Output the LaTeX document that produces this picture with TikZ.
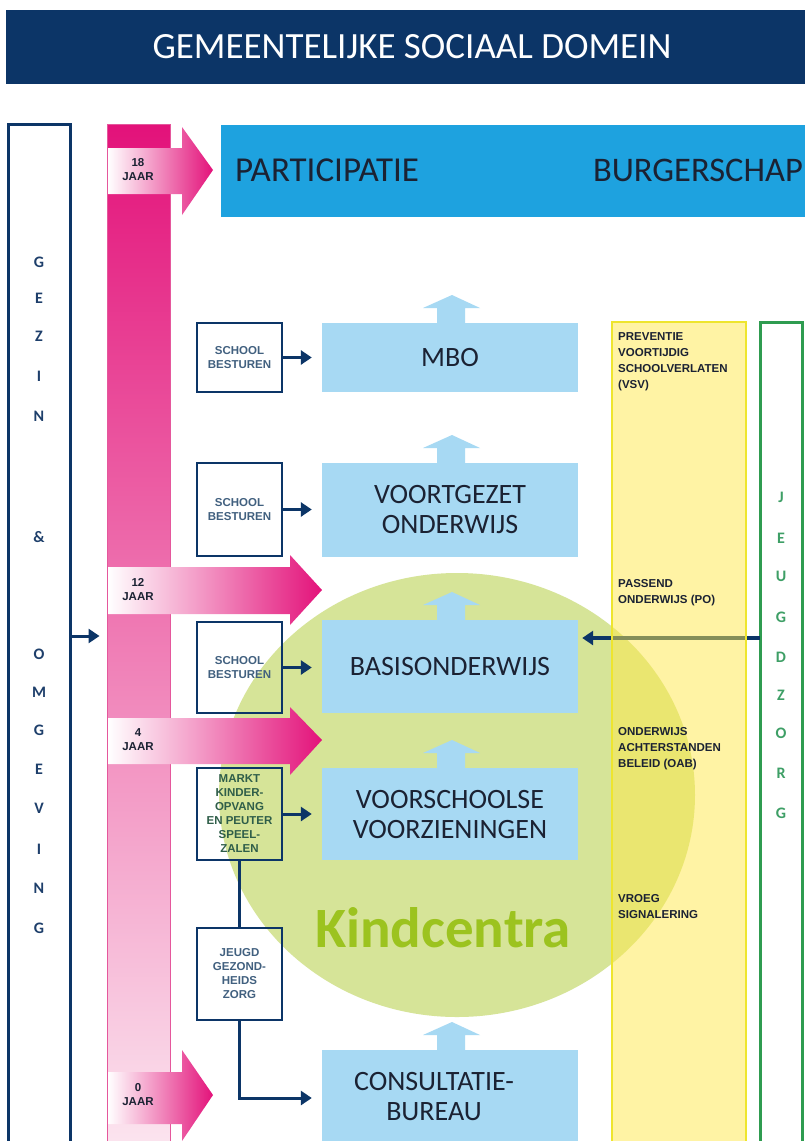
\documentclass[tikz,border=0pt]{standalone}
\usepackage{fontspec}
\setmainfont{Carlito}
\newfontfamily\tagfont{Liberation Sans}
\usetikzlibrary{arrows.meta}

\definecolor{domnavy}{HTML}{0C3567}
\definecolor{skyblue}{HTML}{1EA2DF}
\definecolor{paleblue}{HTML}{A7D9F3}
\definecolor{agepink}{HTML}{E3127A}
\definecolor{palepink}{HTML}{FCE8F1}
\definecolor{barline}{HTML}{E5579C}
\definecolor{kcgreen}{HTML}{D6E498}
\definecolor{kctext}{HTML}{9CC31F}
\definecolor{vsvyellow}{HTML}{FFE84A}
\definecolor{vsvline}{HTML}{EEE52E}
\definecolor{jzgreen}{HTML}{2F9C50}
\definecolor{jzletter}{HTML}{3E9F66}
\definecolor{gzletter}{HTML}{1E3F6B}
\definecolor{boardtext}{HTML}{41607F}
\definecolor{markttext}{HTML}{2F5E49}
\definecolor{inktext}{HTML}{1B2233}

\tikzset{
    phase/.style={fill=paleblue, minimum width=256pt, inner sep=0pt, align=center,
        text=inktext, font=\fontsize{28}{30}\selectfont},
    board/.style={draw=domnavy, line width=2.5pt, minimum width=85pt, inner sep=0pt,
        align=center, text=boardtext, font=\tagfont\bfseries\fontsize{11.5}{14}\selectfont},
    link/.style={draw=domnavy, line width=3pt, -{Triangle[length=11pt,width=14pt]}},
    vsvtext/.style={anchor=north west, align=left, inner sep=0pt, text=inktext,
        font=\tagfont\bfseries\fontsize{11.5}{16}\selectfont},
    agetext/.style={align=center, inner sep=0pt, text=inktext,
        font=\tagfont\bfseries\fontsize{11.5}{14}\selectfont},
    letter/.style={inner sep=0pt, font=\bfseries\fontsize{16}{16}\selectfont}
}

\begin{document}
\begin{tikzpicture}[x=1pt, y=-1pt]
    \useasboundingbox (0,0) rectangle (805,1141);
    \fill[white] (0,0) rectangle (805,1141);

    % header
    \node[fill=domnavy, minimum width=799pt, minimum height=74pt, inner sep=0pt] (header) at (405.5,47) {};
    \node[text=white, inner sep=0pt, font=\fontsize{37}{40}\selectfont] (title) at (412,47) {GEMEENTELIJKE SOCIAAL DOMEIN};

    \node[fill=skyblue, minimum width=590pt, minimum height=92pt, inner sep=0pt] (civic) at (516,171) {};
    \node[anchor=west, inner sep=0pt, text=inktext, font=\fontsize{35}{38}\selectfont] (particip) at (235,170) {PARTICIPATIE};
    \node[anchor=east, inner sep=0pt, text=inktext, font=\fontsize{34.5}{38}\selectfont] (burger) at (803,170) {BURGERSCHAP};

    % gezin & omgeving
    \node[draw=domnavy, line width=3pt, minimum width=62pt, minimum height=1040pt, inner sep=0pt] (gezin) at (39,644) {};
    \foreach \l/\y [count=\i] in {G/262, E/298, Z/336, I/376, N/416, \&/537, O/654, M/692, G/730, E/769, V/808, I/849, N/888, G/928}
        \node[letter, text=gzletter] (gz\i) at (39,\y) {\l};

    % leeftijdsbalk
    \node[top color=agepink, bottom color=palepink, draw=barline, line width=1pt, minimum width=63pt, minimum height=1040pt, inner sep=0pt] (agebar) at (138.5,644) {};
    \coordinate (gzout) at (70,636);
    \draw[link, shorten >=7pt] (gzout) -- (agebar.west |- gzout);

    % kindcentra
    \fill[kcgreen] (457,795) ellipse [x radius=238pt, y radius=222pt];
    \node[text=kctext, inner sep=0pt, font=\bfseries\fontsize{57}{60}\selectfont] (kindcentra) at (443,928) {Kindcentra};

    % onderwijsketen
    \foreach \t in {323, 463, 620, 768, 1050}
        \fill[paleblue] (423,\t-15) -- (452,\t-28) -- (480,\t-15) -- (465,\t-15) -- (465,\t+1) -- (437,\t+1) -- (437,\t-15) -- cycle;
    \node[phase, minimum height=69pt] (mbo) at (450,357.5) {MBO};
    \node[phase, minimum height=94pt] (vo) at (450,510) {VOORTGEZET\\ONDERWIJS};
    \node[phase, minimum height=93pt] (basis) at (450,666.5) {BASISONDERWIJS};
    \node[phase, minimum height=92pt] (vve) at (450,814) {VOORSCHOOLSE\\VOORZIENINGEN};
    \node[phase, minimum height=96pt] (consult) at (450,1098) {};
    \node[align=center, inner sep=0pt, text=inktext, font=\fontsize{28}{30}\selectfont] (consulttext) at (434,1097) {CONSULTATIE-\\BUREAU};

    % besturen
    \node[board, minimum height=69pt] (sb1) at (239.5,357.5) {SCHOOL\\BESTUREN};
    \node[board, minimum height=93pt] (sb2) at (239.5,509.5) {SCHOOL\\BESTUREN};
    \node[board, minimum height=91pt] (sb3) at (239.5,667.5) {SCHOOL\\BESTUREN};
    \node[board, minimum height=92pt, text=markttext] (markt) at (239.5,814) {MARKT\\KINDER-\\OPVANG\\EN PEUTER\\SPEEL-\\ZALEN};
    \node[board, minimum height=92pt] (jgz) at (239.5,974) {JEUGD\\GEZOND-\\HEIDS\\ZORG};

    \draw[link, shorten >=10pt] (sb1) -- (mbo);
    \draw[link, shorten >=10pt] (sb2.east) -- (vo.west |- sb2.east);
    \draw[link, shorten >=10pt] (sb3.east) -- (basis.west |- sb3.east);
    \draw[link, shorten >=10pt] (markt) -- (vve);
    \draw[draw=domnavy, line width=3pt] (markt) -- (jgz);
    \draw[link, shorten >=10pt] (jgz.south) |- (consult.west);

    % leeftijden
    \foreach \bandtop/\bandbot/\headx/\headtop/\headbot/\tipx/\tipy/\age in {148/194/182/127/215/213/170/18, 567/614/290/555/625/322/590/12, 718/764/290/707/775/322/740/4, 1072/1124/182/1050/1141/213/1095/0}
    {
        \shade[left color=white, right color=agepink] (108,\bandtop) -- (\headx,\bandtop) -- (\headx,\headtop) -- (\tipx,\tipy) -- (\headx,\headbot) -- (\headx,\bandbot) -- (108,\bandbot) -- cycle;
        \node[agetext] (age\age) at (138,\tipy) {\age\\JAAR};
    }

    % jeugdzorg
    \node[draw=jzgreen, line width=3pt, minimum width=42pt, minimum height=840pt, inner sep=0pt] (jeugd) at (781,742) {};
    \foreach \l/\y [count=\i] in {J/497, E/538, U/576, G/617, D/657, Z/695, O/733, R/773, G/813}
        \node[letter, text=jzletter] (jz\i) at (781,\y) {\l};
    \coordinate (jzout) at (760,638);
    \draw[link, line width=4pt, shorten >=4pt] (jzout) -- (basis.east |- jzout);

    % beleid
    \node[fill=vsvyellow, fill opacity=0.5, draw=vsvline, draw opacity=1, line width=2.5pt, minimum width=134pt, minimum height=840pt, inner sep=0pt] (vsv) at (679,742) {};
    \node[vsvtext] (vsv1) at (618,332) {PREVENTIE\\VOORTIJDIG\\SCHOOLVERLATEN\\(VSV)};
    \node[vsvtext] (vsv2) at (618,579) {PASSEND\\ONDERWIJS (PO)};
    \node[vsvtext] (vsv3) at (618,727) {ONDERWIJS\\ACHTERSTANDEN\\BELEID (OAB)};
    \node[vsvtext] (vsv4) at (618,894) {VROEG\\SIGNALERING};

\end{tikzpicture}
\end{document}
